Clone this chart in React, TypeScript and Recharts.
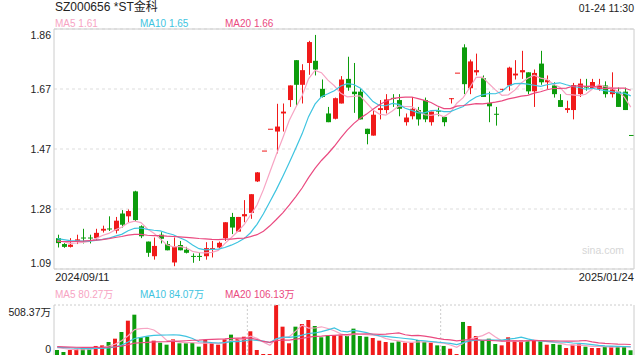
import {
  ComposedChart,
  Bar,
  Line,
  XAxis,
  YAxis,
  CartesianGrid,
  ReferenceLine,
  Cell,
} from "recharts";

// trading days shown on the chart
const dates = [
  "2024/09/11", "2024/09/12", "2024/09/13", "2024/09/18", "2024/09/19", "2024/09/20",
  "2024/09/23", "2024/09/24", "2024/09/25", "2024/09/26", "2024/09/27", "2024/09/30",
  "2024/10/08", "2024/10/09", "2024/10/10", "2024/10/11", "2024/10/14", "2024/10/15",
  "2024/10/16", "2024/10/17", "2024/10/18", "2024/10/21", "2024/10/22", "2024/10/23",
  "2024/10/24", "2024/10/25", "2024/10/28", "2024/10/29", "2024/10/30", "2024/10/31",
  "2024/11/01", "2024/11/04", "2024/11/05", "2024/11/06", "2024/11/07", "2024/11/08",
  "2024/11/11", "2024/11/12", "2024/11/13", "2024/11/14", "2024/11/15", "2024/11/18",
  "2024/11/19", "2024/11/20", "2024/11/21", "2024/11/22", "2024/11/25", "2024/11/26",
  "2024/11/27", "2024/11/28", "2024/11/29", "2024/12/02", "2024/12/03", "2024/12/04",
  "2024/12/05", "2024/12/06", "2024/12/09", "2024/12/10", "2024/12/11", "2024/12/12",
  "2024/12/13", "2024/12/16", "2024/12/17", "2024/12/18", "2024/12/19", "2024/12/20",
  "2024/12/23", "2024/12/24", "2024/12/25", "2024/12/26", "2024/12/27", "2024/12/30",
  "2024/12/31", "2025/01/02", "2025/01/03", "2025/01/06", "2025/01/07", "2025/01/08",
  "2025/01/09", "2025/01/10", "2025/01/13", "2025/01/14", "2025/01/15", "2025/01/16",
  "2025/01/17", "2025/01/20", "2025/01/21", "2025/01/22", "2025/01/23", "2025/01/24",
];

const opens = [
  1.189, 1.17, 1.161, 1.18, 1.191, 1.191, 1.189, 1.213, 1.22, 1.213,
  1.268, 1.259, 1.339, 1.227, 1.178, 1.131, 1.2, 1.17, 1.111, 1.167,
  1.152, 1.132, 1.132, 1.131, 1.157, 1.159, 1.189, 1.257, 1.21, 1.259,
  1.27, 1.371, 1.47, 1.54, 1.531, 1.589, 1.632, 1.76, 1.681, 1.751,
  1.758, 1.668, 1.589, 1.572, 1.621, 1.7, 1.659, 1.659, 1.54, 1.518,
  1.6, 1.6, 1.639, 1.632, 1.561, 1.58, 1.6, 1.632, 1.561, 1.598,
  1.578, 1.637, 1.72, 1.801, 1.67, 1.721, 1.702, 1.623, 1.588, 1.666,
  1.679, 1.711, 1.721, 1.721, 1.66, 1.749, 1.689, 1.679, 1.632, 1.6,
  1.6, 1.651, 1.677, 1.67, 1.668, 1.679, 1.651, 1.659, 1.659, 1.52,
];

const highs = [
  1.2, 1.173, 1.189, 1.2, 1.219, 1.2, 1.219, 1.229, 1.259, 1.257,
  1.279, 1.281, 1.341, 1.23, 1.178, 1.191, 1.208, 1.18, 1.191, 1.18,
  1.161, 1.14, 1.142, 1.176, 1.18, 1.178, 1.24, 1.27, 1.257, 1.311,
  1.33, 1.401, 1.47, 1.54, 1.62, 1.621, 1.679, 1.76, 1.747, 1.822,
  1.841, 1.698, 1.61, 1.64, 1.709, 1.771, 1.751, 1.67, 1.54, 1.6,
  1.632, 1.651, 1.651, 1.651, 1.589, 1.642, 1.61, 1.64, 1.595, 1.608,
  1.578, 1.638, 1.72, 1.811, 1.762, 1.781, 1.711, 1.659, 1.61, 1.668,
  1.739, 1.76, 1.79, 1.721, 1.73, 1.79, 1.711, 1.689, 1.651, 1.63,
  1.687, 1.7, 1.7, 1.7, 1.7, 1.692, 1.721, 1.672, 1.672, 1.52,
];

const lows = [
  1.159, 1.158, 1.159, 1.17, 1.172, 1.172, 1.18, 1.207, 1.212, 1.204,
  1.223, 1.239, 1.242, 1.189, 1.129, 1.12, 1.172, 1.15, 1.099, 1.15,
  1.14, 1.11, 1.116, 1.12, 1.127, 1.157, 1.18, 1.202, 1.21, 1.24,
  1.251, 1.369, 1.47, 1.54, 1.461, 1.531, 1.61, 1.614, 1.621, 1.713,
  1.711, 1.64, 1.561, 1.57, 1.621, 1.662, 1.591, 1.57, 1.49, 1.518,
  1.57, 1.589, 1.61, 1.58, 1.55, 1.57, 1.55, 1.561, 1.55, 1.58,
  1.548, 1.621, 1.72, 1.651, 1.651, 1.711, 1.642, 1.561, 1.55, 1.66,
  1.662, 1.698, 1.7, 1.651, 1.61, 1.681, 1.668, 1.64, 1.61, 1.591,
  1.57, 1.642, 1.662, 1.668, 1.662, 1.64, 1.64, 1.61, 1.6, 1.52,
];

const closes = [
  1.173, 1.161, 1.168, 1.185, 1.189, 1.189, 1.206, 1.219, 1.218, 1.245,
  1.232, 1.276, 1.247, 1.195, 1.142, 1.164, 1.187, 1.15, 1.161, 1.15,
  1.142, 1.13, 1.13, 1.157, 1.157, 1.174, 1.24, 1.223, 1.257, 1.266,
  1.33, 1.4, 1.47, 1.54, 1.547, 1.595, 1.679, 1.681, 1.728, 1.818,
  1.73, 1.642, 1.561, 1.638, 1.698, 1.672, 1.651, 1.57, 1.523, 1.585,
  1.606, 1.634, 1.637, 1.604, 1.576, 1.604, 1.57, 1.57, 1.595, 1.596,
  1.561, 1.638, 1.72, 1.683, 1.756, 1.728, 1.642, 1.612, 1.586, 1.668,
  1.736, 1.717, 1.728, 1.66, 1.719, 1.689, 1.696, 1.651, 1.61, 1.606,
  1.68, 1.685, 1.672, 1.69, 1.68, 1.651, 1.666, 1.61, 1.6, 1.52,
];

// 成交量, 万股
const volumes = [
  51, 30, 51, 64, 71, 64, 92, 98, 132, 166,
  234, 349, 410, 180, 186, 146, 125, 105, 159, 119,
  119, 125, 85, 153, 125, 105, 159, 207, 166, 186,
  241, 51, 10, 10, 508.37, 288, 119, 288, 315, 356,
  295, 180, 200, 200, 200, 193, 268, 193, 186, 173,
  146, 132, 125, 139, 125, 125, 153, 132, 125, 98,
  92, 64, 10, 336, 295, 193, 153, 166, 112, 98,
  180, 146, 146, 146, 146, 139, 105, 112, 105, 71,
  105, 109, 85, 71, 71, 88, 88, 88, 88, 48,
];

// sessions before the visible window, only used to start the moving averages
const prevCloses = [
  1.16, 1.17, 1.18, 1.17, 1.16, 1.17, 1.18, 1.16, 1.17, 1.17,
  1.19, 1.2, 1.19, 1.2, 1.19, 1.18, 1.19, 1.18, 1.18,
];
const prevVolumes = [
  88, 95, 80, 92, 85, 78, 90, 100, 84, 96, 82, 90, 86, 94, 80, 78, 88, 84, 76,
];

const priceTicks = [1.09, 1.2825, 1.475, 1.6675, 1.86];
const priceTickLabels = ["1.09", "1.28", "1.47", "1.67", "1.86"];
const volumeTicks = [0, 508.37];
const volumeTickLabels = ["0", "508.37万"];

const priceLegend = ["MA5 1.61", "MA10 1.65", "MA20 1.66"];
const volumeLegend = ["MA5 80.27万", "MA10 84.07万", "MA20 106.13万"];

const RED = "#f01a1a";
const GREEN = "#0c9c0c";
const MA_COLORS = ["#f7a4c3", "#3ec4e0", "#ea4a80"];
const FONT = "'Liberation Sans', Arial, 'Noto Sans CJK SC', sans-serif";

const movingAvg = (prev: number[], vals: number[], n: number) => {
  const all = prev.concat(vals);
  return vals.map((_, i) => {
    const end = prev.length + i + 1;
    return all.slice(end - n, end).reduce((s, v) => s + v, 0) / n;
  });
};

const ma5 = movingAvg(prevCloses, closes, 5);
const ma10 = movingAvg(prevCloses, closes, 10);
const ma20 = movingAvg(prevCloses, closes, 20);
const vma5 = movingAvg(prevVolumes, volumes, 5);
const vma10 = movingAvg(prevVolumes, volumes, 10);
const vma20 = movingAvg(prevVolumes, volumes, 20);

const rows = dates.map((date, i) => {
  const o = opens[i];
  const c = closes[i];
  const prev = i > 0 ? closes[i - 1] : prevCloses[prevCloses.length - 1];
  const up = c > o || (c === o && c >= prev);
  return {
    date,
    open: o,
    high: highs[i],
    low: lows[i],
    close: c,
    volume: volumes[i],
    color: up ? RED : GREEN,
    ma5: ma5[i],
    ma10: ma10[i],
    ma20: ma20[i],
    vma5: vma5[i],
    vma10: vma10[i],
    vma20: vma20[i],
  };
});

const Candle = (props: any) => {
  const { x, y, width, height, payload } = props;
  const { open, close, high, low, color } = payload;
  const k = high > low ? height / (high - low) : 0;
  const top = y + (high - Math.max(open, close)) * k;
  const bottom = y + (high - Math.min(open, close)) * k;
  const cx = Math.round(x + width / 2) + 0.5;
  return (
    <g>
      {height > 0 && (
        <line x1={cx} x2={cx} y1={y} y2={y + height} stroke={color} strokeWidth={1} />
      )}
      <rect
        x={cx - width / 2}
        y={top}
        width={width}
        height={Math.max(1, bottom - top)}
        fill={color}
      />
    </g>
  );
};

const PriceTick = (props: any) => {
  const { x, y, payload } = props;
  const i = priceTicks.indexOf(payload.value);
  const dy = i === priceTicks.length - 1 ? 6 : i === 0 ? -6 : 0;
  return (
    <text x={x} y={y + dy} textAnchor="end" dominantBaseline="central" fontSize={10.5} fill="#222">
      {priceTickLabels[i]}
    </text>
  );
};

const VolumeTick = (props: any) => {
  const { x, y, payload } = props;
  const i = volumeTicks.indexOf(payload.value);
  const dy = i === 0 ? -6 : 6.5;
  return (
    <text x={x} y={y + dy} textAnchor="end" dominantBaseline="central" fontSize={10.5} fill="#222">
      {volumeTickLabels[i]}
    </text>
  );
};

const DateTick = (props: any) => {
  const { x, y, payload } = props;
  const first = payload.value === dates[0];
  return (
    <text
      x={first ? x - 2 : x + 3}
      y={y}
      textAnchor={first ? "start" : "end"}
      dominantBaseline="central"
      fontSize={11}
      fill="#222"
    >
      {payload.value}
    </text>
  );
};

const Label = ({ left, right, cy, size, color, children }: any) => (
  <div
    style={{
      position: "absolute",
      left,
      right,
      top: cy - 8,
      height: 16,
      lineHeight: "16px",
      fontSize: size,
      color,
      whiteSpace: "nowrap",
    }}
  >
    {children}
  </div>
);

const legendLeft = [55, 140, 225];

export default function App() {
  return (
    <div
      style={{
        position: "absolute",
        left: 0,
        top: 0,
        width: 640,
        height: 360,
        background: "#fff",
        fontFamily: FONT,
        overflow: "hidden",
      }}
    >
      <Label left={55} cy={7} size={12} color="#222">
        SZ000656 *ST金科
      </Label>
      <Label right={6} cy={8} size={10.5} color="#222">
        01-24 11:30
      </Label>
      {priceLegend.map((t, i) => (
        <Label key={t} left={legendLeft[i]} cy={24} size={10} color={MA_COLORS[i]}>
          {t}
        </Label>
      ))}
      {volumeLegend.map((t, i) => (
        <Label key={t} left={legendLeft[i]} cy={295} size={10} color={MA_COLORS[i]}>
          {t}
        </Label>
      ))}
      <Label left={582} cy={249.5} size={10.5} color="#d6d6d6">
        sina.com
      </Label>

      <div style={{ position: "absolute", left: 0, top: 0 }}>
        <ComposedChart
          width={640}
          height={290}
          data={rows}
          margin={{ top: 29, right: 6, bottom: 0, left: 0 }}
        >
          <CartesianGrid vertical={false} stroke="#ddd" strokeDasharray="3 3" />
          <XAxis
            dataKey="date"
            ticks={[dates[0], dates[dates.length - 1]]}
            interval={0}
            tick={<DateTick />}
            tickLine={false}
            tickSize={6}
            tickMargin={2}
            axisLine={{ stroke: "#ccc" }}
            height={21}
          />
          <YAxis
            domain={[1.09, 1.86]}
            ticks={priceTicks}
            interval={0}
            allowDataOverflow
            width={54}
            tickSize={0}
            tickMargin={3}
            tickLine={false}
            tick={<PriceTick />}
            axisLine={{ stroke: "#ccc" }}
          />
          <ReferenceLine y={1.86} stroke="#ccc" />
          <ReferenceLine x={dates[dates.length - 1]} position="end" stroke="#ccc" />
          <Bar
            dataKey={(d: any) => [d.low, d.high]}
            barSize={5}
            shape={<Candle />}
            isAnimationActive={false}
          />
          <Line type="linear" dataKey="ma5" stroke={MA_COLORS[0]} strokeWidth={1.2} dot={false} activeDot={false} isAnimationActive={false} />
          <Line type="linear" dataKey="ma10" stroke={MA_COLORS[1]} strokeWidth={1.2} dot={false} activeDot={false} isAnimationActive={false} />
          <Line type="linear" dataKey="ma20" stroke={MA_COLORS[2]} strokeWidth={1.2} dot={false} activeDot={false} isAnimationActive={false} />
        </ComposedChart>
      </div>

      <div style={{ position: "absolute", left: 0, top: 284 }}>
        <ComposedChart
          width={640}
          height={76}
          data={rows}
          margin={{ top: 21, right: 6, bottom: 5, left: 0 }}
        >
          <XAxis dataKey="date" hide />
          <YAxis
            domain={[0, 508.37]}
            ticks={volumeTicks}
            interval={0}
            allowDataOverflow
            width={54}
            tickSize={0}
            tickMargin={3}
            tickLine={false}
            tick={<VolumeTick />}
            axisLine={{ stroke: "#ccc" }}
          />
          <ReferenceLine y={508.37} stroke="#ccc" strokeDasharray="2 2" />
          <ReferenceLine x={dates[30]} position="start" stroke="#ccc" strokeDasharray="2 2" />
          <ReferenceLine x={dates[60]} position="start" stroke="#ccc" strokeDasharray="2 2" />
          <ReferenceLine x={dates[dates.length - 1]} position="end" stroke="#ccc" />
          <Bar dataKey="volume" barSize={4} isAnimationActive={false}>
            {rows.map((r) => (
              <Cell key={r.date} fill={r.color} />
            ))}
          </Bar>
          <Line type="linear" dataKey="vma5" stroke={MA_COLORS[0]} strokeWidth={1.2} dot={false} activeDot={false} isAnimationActive={false} />
          <Line type="linear" dataKey="vma10" stroke={MA_COLORS[1]} strokeWidth={1.2} dot={false} activeDot={false} isAnimationActive={false} />
          <Line type="linear" dataKey="vma20" stroke={MA_COLORS[2]} strokeWidth={1.2} dot={false} activeDot={false} isAnimationActive={false} />
        </ComposedChart>
      </div>
    </div>
  );
}
